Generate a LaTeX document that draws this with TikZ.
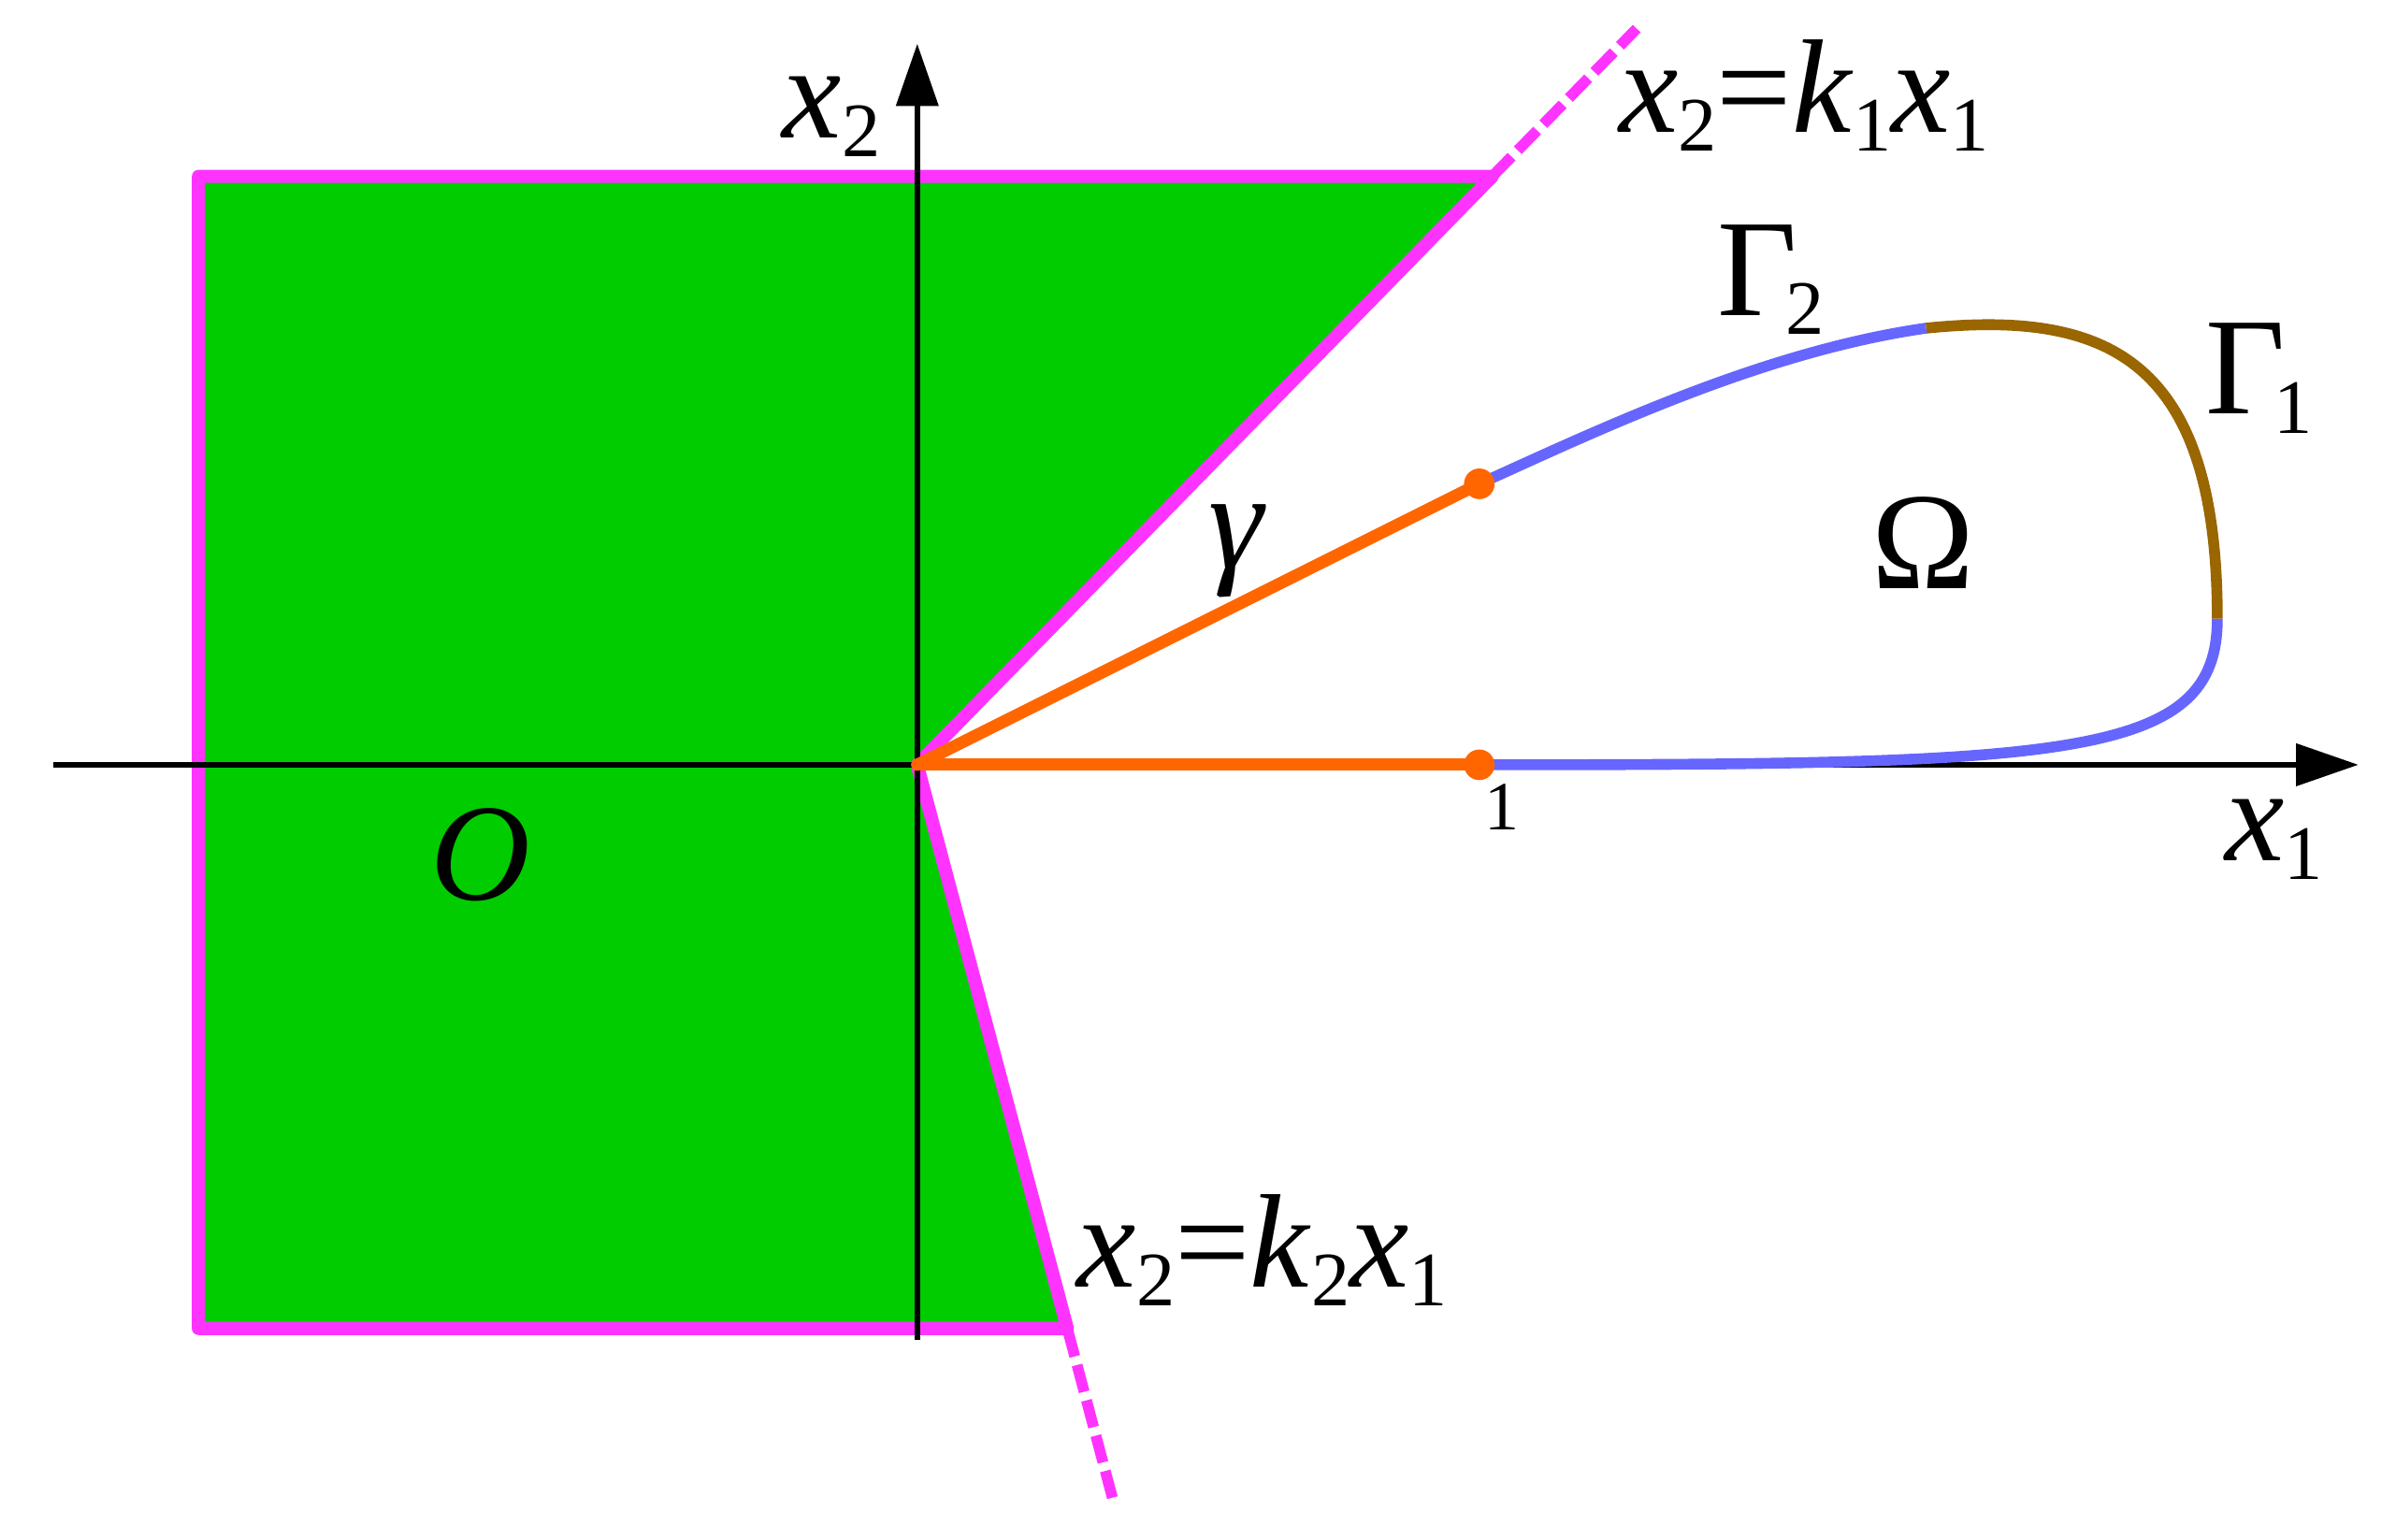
\documentclass[tikz,border=0pt]{standalone}
\usepackage{fontspec}
\setmainfont{Liberation Serif}
\usetikzlibrary{arrows.meta}

\definecolor{regiongreen}{RGB}{0,204,0}
\definecolor{bordermag}{RGB}{255,51,255}
\definecolor{gammaorange}{RGB}{255,102,0}
\definecolor{gtwoblue}{RGB}{102,102,255}
\definecolor{gonebrown}{RGB}{153,102,0}

\newcommand{\lo}[1]{\raisebox{-0.14em}{\fontsize{7.8pt}{8pt}\selectfont\upshape #1}}

\tikzset{
  axis/.style={line width=0.57pt, -{Triangle[length=6.3pt,width=4.2pt]}},
  lbl/.style={inner sep=0pt, anchor=base west, font=\fontsize{13.5pt}{16pt}\selectfont},
  greek/.style={inner sep=0pt, anchor=base west, font=\fontsize{14pt}{17pt}\selectfont},
  border/.style={draw=bordermag, line width=1.33pt, line join=round},
  ray/.style={draw=bordermag, line width=1.1pt, dash pattern=on 2.8pt off 0.9pt},
  gam/.style={draw=gammaorange, line width=1.23pt, line cap=round},
  bdry/.style={line width=1.1pt},
  dot/.style={circle, fill=gammaorange, inner sep=0pt, minimum size=3.1pt}
}

\begin{document}
\begin{tikzpicture}[x=2cm,y=2cm]
  \useasboundingbox (-1.632,-1.378) rectangle (2.631,1.361);

  \coordinate (O)    at (0,0);
  \coordinate (TL)   at (-1.279,1.047);
  \coordinate (TR)   at (1.023,1.047);
  \coordinate (BL)   at (-1.279,-1.003);
  \coordinate (BR)   at (0.267,-1.003);
  \coordinate (Kone) at (1.28,1.31);
  \coordinate (Ktwo) at (0.35,-1.315);
  \coordinate (Xs)   at (-1.537,0);
  \coordinate (Xe)   at (2.564,0);
  \coordinate (Ys)   at (0,-1.023);
  \coordinate (Ye)   at (0,1.283);
  \coordinate (P)    at (1,0);
  \coordinate (Q)    at (1,0.5);
  \coordinate (Cone) at (2.313,0.26);
  \coordinate (Ctwo) at (1.795,0.777);

  % region and its rays
  \fill[regiongreen] (TL) -- (TR) -- (O) -- (BR) -- (BL) -- cycle;
  \draw[ray] (TR) -- (Kone);
  \draw[ray] (O) -- (Ktwo);
  \draw[border] (TL) -- (TR) -- (O) -- (BR) -- (BL) -- cycle;

  % axes
  \draw[axis] (Xs) -- (Xe);
  \draw[axis] (Ys) -- (Ye);

  % gamma
  \draw[gam] (O) -- (P);
  \draw[gam] (O) -- (Q);

  % boundary of Omega
  \draw[bdry, gtwoblue]  (P) .. controls (2.05,0) and (2.313,0.01) .. (Cone);
  \draw[bdry, gonebrown] (Cone) .. controls (2.313,0.72) and (2.12,0.81) .. (Ctwo);
  \draw[bdry, gtwoblue]  (Ctwo) .. controls (1.5,0.735) and (1.2,0.59) .. (Q);

  \node[dot] (Pdot) at (P) {};
  \node[dot] (Qdot) at (Q) {};

  % labels
  \node[lbl] (xtwo) at (-0.243,1.115) {\textit{x}\lo{2}};
  \node[lbl] (xone) at (2.323,-0.17) {\textit{x}\lo{1}};
  \node[lbl] (kone) at (1.245,1.125) {\textit{x}\lo{2}=\textit{k}\lo{1}\textit{x}\lo{1}};
  \node[lbl] (ktwo) at (0.281,-0.930) {\textit{x}\lo{2}=\textit{k}\lo{2}\textit{x}\lo{1}};
  \node[greek] (orig) at (-0.87,-0.24) {\textit{O}};
  \node[greek] (gam) at (0.515,0.35) {\textit{γ}};
  \node[greek] (omega) at (1.695,0.313) {Ω};
  \node[greek] (gone) at (2.288,0.624) {Γ\kern-0.08em\lo{1}};
  \node[greek] (gtwo) at (1.42,0.800) {Γ\kern-0.08em\lo{2}};
  \node[inner sep=0pt, anchor=base, font=\fontsize{7pt}{8pt}\selectfont] (one) at (1.04,-0.115) {1};
\end{tikzpicture}
\end{document}
